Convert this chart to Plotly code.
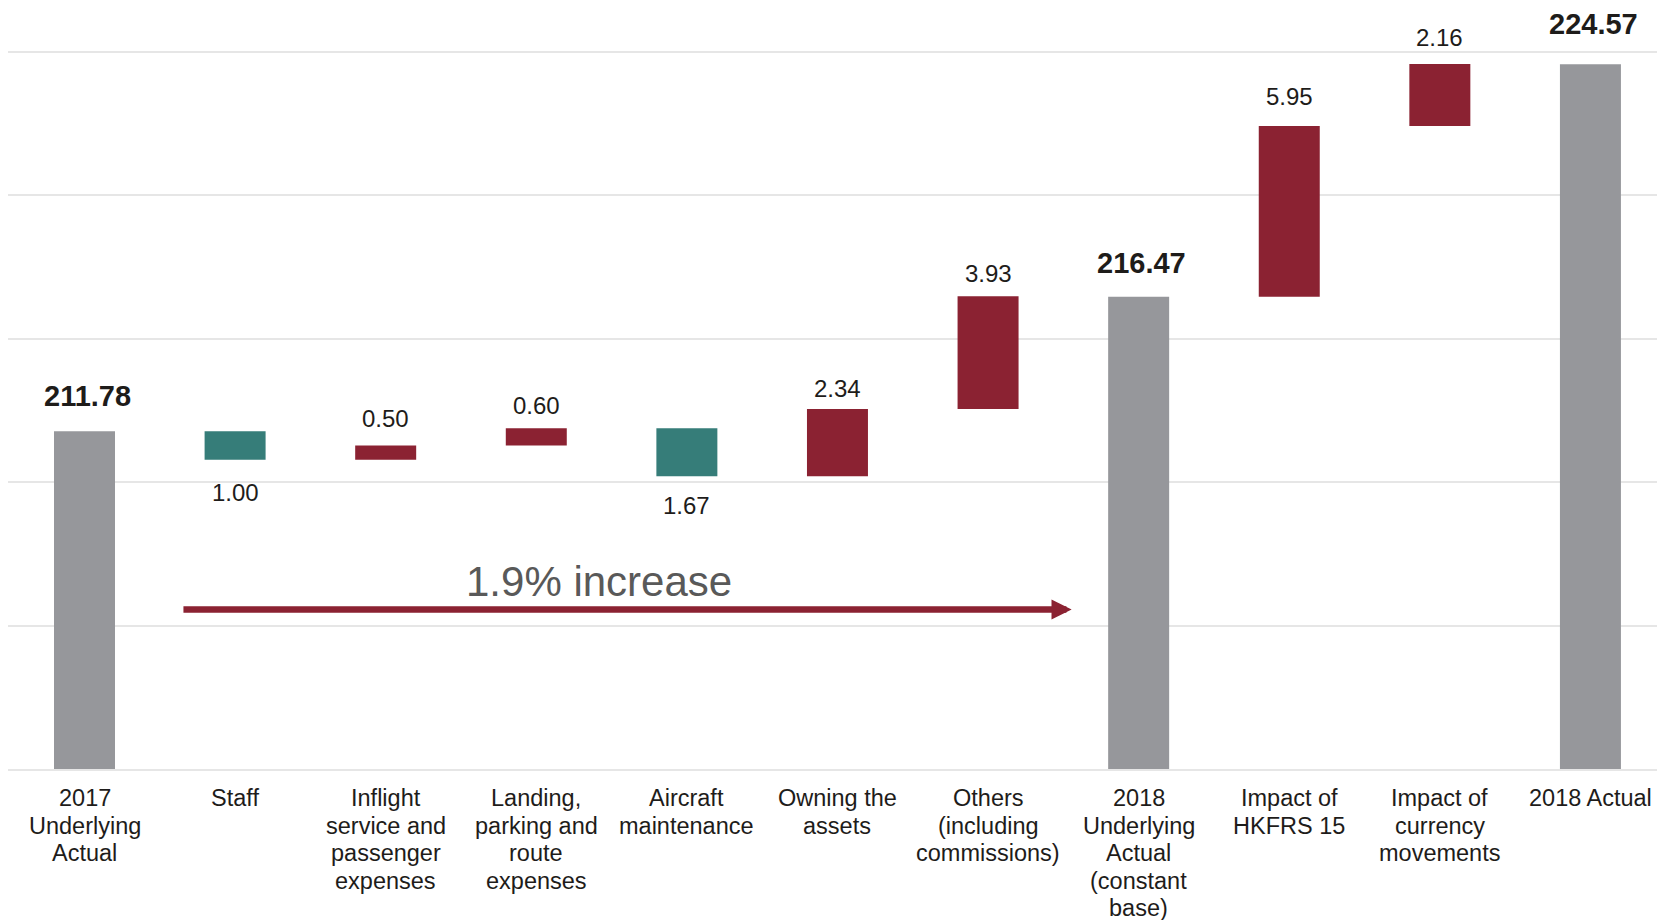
import plotly.graph_objects as go

# Cost bridge: 2017 underlying actual to 2018 actual
categories = [
    "2017<br>Underlying<br>Actual",
    "Staff",
    "Inflight<br>service and<br>passenger<br>expenses",
    "Landing,<br>parking and<br>route<br>expenses",
    "Aircraft<br>maintenance",
    "Owning the<br>assets",
    "Others<br>(including<br>commissions)",
    "2018<br>Underlying<br>Actual<br>(constant<br>base)",
    "Impact of<br>HKFRS 15",
    "Impact of<br>currency<br>movements",
    "2018 Actual",
]
measures = ["absolute", "relative", "relative", "relative", "relative", "relative",
            "relative", "absolute", "relative", "relative", "absolute"]
values = [211.78, -1.00, 0.50, 0.60, -1.67, 2.34, 3.93, 216.47, 5.95, 2.16, 224.57]
labels = ["211.78", "1.00", "0.50", "0.60", "1.67", "2.34", "3.93",
          "216.47", "5.95", "2.16", "224.57"]

# pixel gap between each value label and the end of its bar
label_gap = [35, 33, 27, 23, 29, 21, 23, 34, 29, 27, 40]

GREY = "#96979B"
RED = "#8B2232"
TEAL = "#367D79"
TEXT = "#1E1C1A"
GRID = "#E6E6E6"
FONT = "Arial, 'Liberation Sans', sans-serif"

fig = go.Figure(go.Waterfall(
    x=categories,
    y=values,
    measure=measures,
    width=0.405,
    increasing=dict(marker=dict(color=RED)),
    decreasing=dict(marker=dict(color=TEAL)),
    totals=dict(marker=dict(color=GREY)),
    connector=dict(visible=False),
    hoverinfo="skip",
))

# Value labels: totals in bold above, increases above, decreases below
level = 0.0
annotations = []
for cat, m, v, lab, gap in zip(categories, measures, values, labels, label_gap):
    if m == "absolute":
        level = v
        annotations.append(dict(x=cat, y=level, text=f"<b>{lab}</b>", showarrow=False,
                                yanchor="middle", yshift=gap, xshift=3,
                                font=dict(size=29, color=TEXT, family=FONT)))
    elif v >= 0:
        level += v
        annotations.append(dict(x=cat, y=level, text=lab, showarrow=False,
                                yanchor="middle", yshift=gap,
                                font=dict(size=24, color=TEXT, family=FONT)))
    else:
        level += v
        annotations.append(dict(x=cat, y=level, text=lab, showarrow=False,
                                yanchor="middle", yshift=-gap,
                                font=dict(size=24, color=TEXT, family=FONT)))

# Category captions under the axis, set line by line with a tight leading
for cat in categories:
    for i, line in enumerate(cat.split("<br>")):
        annotations.append(dict(x=cat, y=0, xref="x", yref="paper", text=line,
                                showarrow=False, yanchor="middle",
                                yshift=-29 - 27.5 * i,
                                font=dict(size=23.5, color=TEXT, family=FONT)))

# Growth arrow between the two underlying totals
annotations.append(dict(x=6.555, y=205.56, ax=0.647, ay=205.56, axref="x", ayref="y",
                        xref="x", yref="y", text="", showarrow=True, arrowhead=2,
                        arrowwidth=6.5, arrowsize=0.62, arrowcolor=RED, standoff=0))
annotations.append(dict(x=3.416, y=206.55, text="1.9% increase", showarrow=False,
                        xref="x", yref="y", yanchor="middle",
                        font=dict(size=42, color="#595959", family=FONT)))

fig.update_layout(
    width=1657, height=920,
    margin=dict(l=8, r=0, t=0, b=151),
    paper_bgcolor="white", plot_bgcolor="white",
    showlegend=False,
    annotations=annotations,
    xaxis=dict(
        type="category",
        range=[-0.508, 10.442],
        showgrid=False,
        showline=True, linecolor=GRID, linewidth=2,
        ticks="",
        showticklabels=False,
        automargin=False,
        fixedrange=True,
    ),
    yaxis=dict(
        range=[200, 226.813],
        dtick=5, tick0=200,
        showgrid=True, gridcolor=GRID, gridwidth=2,
        zeroline=False,
        showticklabels=False,
        automargin=False,
        fixedrange=True,
    ),
)

fig.write_html("out.html")
